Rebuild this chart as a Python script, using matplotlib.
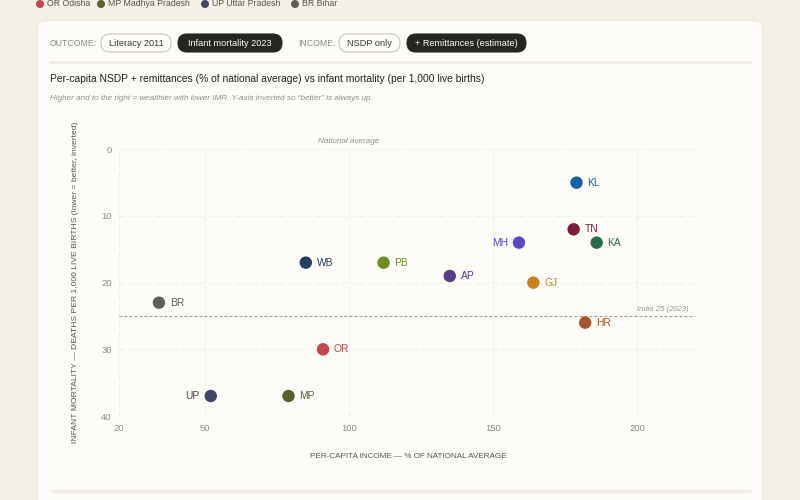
import matplotlib
matplotlib.use("Agg")
import matplotlib.pyplot as plt
from matplotlib.patches import FancyBboxPatch, Circle

plt.rcParams['font.family'] = ['Liberation Sans', 'DejaVu Sans']

# ---- data ----
states = ["KL", "TN", "KA", "MH", "AP", "GJ", "HR", "WB", "PB", "BR", "OR", "UP", "MP"]
income = [179, 178, 186, 159, 135, 164, 182, 85, 112, 34, 91, 52, 79]
imr = [5, 12, 14, 14, 19, 20, 26, 17, 17, 23, 30, 37, 37]
colors = ["#1b5fa6", "#7a1d3c", "#2b6b4b", "#5b47c6", "#583c87", "#c6831f", "#a5532a",
          "#263f5c", "#6e8c23", "#5f5f57", "#c2464b", "#3e4862", "#5a5e33"]
label_left = ["MH", "UP"]
x_ticks = [20, 50, 100, 150, 200]
y_ticks = [0, 10, 20, 30, 40]
india_imr = 25
national_avg = 100
legend_items = [("OR Odisha", "#c2464b"), ("MP Madhya Pradesh", "#5a5e33"),
                ("UP Uttar Pradesh", "#3e4862"), ("BR Bihar", "#5f5f57")]

W, H = 800, 500
fig = plt.figure(figsize=(8, 5), dpi=100)
fig.patch.set_facecolor("#f3f0e6")

# background / decoration axes in pixel coordinates
bg = fig.add_axes([0, 0, 1, 1])
bg.set_xlim(0, W)
bg.set_ylim(H, 0)
bg.axis("off")

# card
card = FancyBboxPatch((37.5, 20.5), 725, 520, boxstyle="round,pad=0,rounding_size=8",
                      facecolor="#fdfcf8", edgecolor="#ebe7dc", linewidth=0.8)
bg.add_patch(card)

# legend at top (partially clipped)
lx = [40, 101, 205, 295]
for (txt, c), x in zip(legend_items, lx):
    bg.add_patch(Circle((x, 4), 3.3, color=c))
    bg.text(x + 7, 4, txt, fontsize=6.3, color="#555555", va="center", ha="left")

# control row
bg.text(50, 43.5, "OUTCOME:", fontsize=6.3, color="#8a8a8a", va="center", ha="left")
bg.text(298, 43.5, "INCOME:", fontsize=6.3, color="#8a8a8a", va="center", ha="left")

def pill(x0, x1, txt, filled):
    h = 18
    p = FancyBboxPatch((x0, 43 - h / 2), x1 - x0, h,
                       boxstyle="round,pad=0,rounding_size=9",
                       facecolor="#272522" if filled else "#fdfcf8",
                       edgecolor="#272522" if filled else "#c9c6bd", linewidth=0.8)
    bg.add_patch(p)
    bg.text((x0 + x1) / 2, 43.5, txt, fontsize=6.6, color="white" if filled else "#3a3a3a",
            va="center", ha="center")

pill(101, 171, "Literacy 2011", False)
pill(178, 282, "Infant mortality 2023", True)
pill(339, 400, "NSDP only", False)
pill(407, 526, "+ Remittances (estimate)", True)

bg.plot([49, 751], [62, 62], color="#f0ede6", lw=2, solid_capstyle="butt")
bg.plot([51, 751], [491, 491], color="#efece5", lw=2.5, solid_capstyle="butt")

bg.text(50, 79, "Per-capita NSDP + remittances (% of national average) vs infant mortality (per 1,000 live births)",
        fontsize=7.4, color="#222222", va="center", ha="left")
bg.text(50, 98, "Higher and to the right = wealthier with lower IMR. Y-axis inverted so \u201cbetter\u201d is always up.",
        fontsize=5.85, color="#8f8f8f", style="italic", va="center", ha="left")

# axis titles
bg.text(76, 282, "INFANT MORTALITY \u2014 DEATHS PER 1,000 LIVE BIRTHS (lower = better, inverted)",
        fontsize=6.1, color="#555555", rotation=90, va="center", ha="center")
bg.text(408, 456, "PER-CAPITA INCOME \u2014 % OF NATIONAL AVERAGE",
        fontsize=5.9, color="#555555", va="center", ha="center")

# ---- main plot axes ----
left_px, right_px = 118.6, 694.6
top_px, bot_px = 149.3, 416.0
ax = fig.add_axes([left_px / W, 1 - bot_px / H, (right_px - left_px) / W, (bot_px - top_px) / H])
ax.set_facecolor("none")
ax.set_xlim(20, 220)
ax.set_ylim(40, 0)
for s in ax.spines.values():
    s.set_visible(False)
ax.set_xticks(x_ticks)
ax.set_yticks(y_ticks)
ax.tick_params(length=0, labelsize=6.8, labelcolor="#8c8c8c")
ax.tick_params(axis="x", pad=6)
ax.tick_params(axis="y", pad=5)
ax.grid(True, color="#f2efe7", lw=0.8, linestyle=(0, (5, 3)))
ax.set_axisbelow(True)

ax.axhline(india_imr, color="#9a9a9a", lw=0.8, linestyle=(0, (2.5, 2)))
ax.text(218, india_imr - 0.5, "India 25 (2023)", fontsize=5.6, color="#999999",
        style="italic", ha="right", va="bottom")
ax.text(national_avg, -0.7, "National average", fontsize=5.9, color="#8f8f8f",
        style="italic", ha="center", va="bottom", clip_on=False)

ax.scatter(income, imr, s=80, c=colors, zorder=3, linewidths=0)
for st, xv, yv, c in zip(states, income, imr, colors):
    if st in label_left:
        ax.annotate(st, (xv, yv), xytext=(-8, 0), textcoords="offset points",
                    ha="right", va="center", fontsize=7.4, color=c if st != "UP" else "#4a4a4a")
    else:
        ax.annotate(st, (xv, yv), xytext=(7.8, 0), textcoords="offset points",
                    ha="left", va="center", fontsize=7.4, color=c)

fig.savefig("out.png", dpi=100, facecolor=fig.get_facecolor())
